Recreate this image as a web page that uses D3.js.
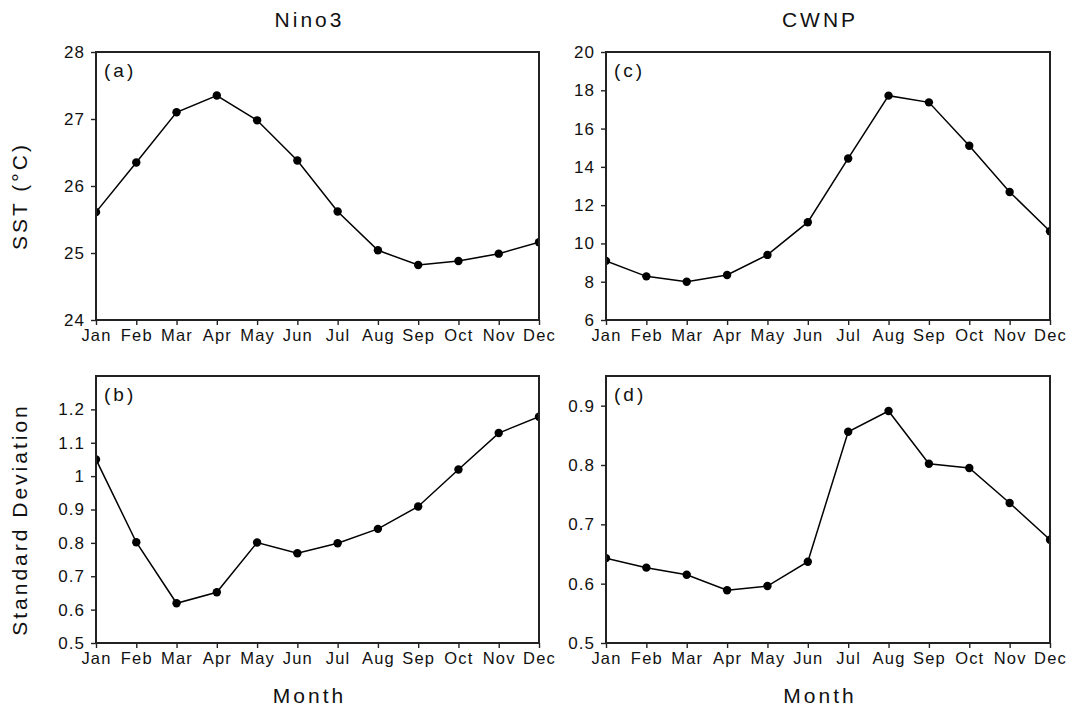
<!DOCTYPE html>
<html>
<head>
<meta charset="utf-8">
<script src="https://cdn.jsdelivr.net/npm/d3@7"></script>
<style>
  html, body { margin: 0; padding: 0; background: #fff; }
  svg { display: block; }
  text { font-family: "Liberation Sans", "DejaVu Sans", sans-serif; fill: #111; }
</style>
</head>
<body>
<svg id="chart" width="1072" height="708"></svg>
<script>
const months = ["Jan","Feb","Mar","Apr","May","Jun","Jul","Aug","Sep","Oct","Nov","Dec"];

const nino3Sst = [25.61, 26.35, 27.10, 27.35, 26.98, 26.38, 25.62, 25.04, 24.82, 24.88, 24.99, 25.16];
const nino3Std = [1.05, 0.802, 0.619, 0.652, 0.801, 0.769, 0.799, 0.842, 0.909, 1.02, 1.129, 1.178];
const cwnpSst  = [9.09, 8.28, 8.00, 8.35, 9.40, 11.11, 14.44, 17.72, 17.37, 15.10, 12.69, 10.64];
const cwnpStd  = [0.643, 0.627, 0.615, 0.589, 0.596, 0.637, 0.856, 0.891, 0.802, 0.795, 0.736, 0.674];

const ticksA = [24, 25, 26, 27, 28];
const ticksB = [0.5, 0.6, 0.7, 0.8, 0.9, 1.0, 1.1, 1.2];
const ticksC = [6, 8, 10, 12, 14, 16, 18, 20];
const ticksD = [0.5, 0.6, 0.7, 0.8, 0.9];

const columnTitles = ["Nino3", "CWNP"];
const rowTitles = ["SST (°C)", "Standard Deviation"];
const xTitle = "Month";

const svg = d3.select("#chart");

const cols = [{x0: 96, x1: 539}, {x0: 606, x1: 1050}];
const rows = [{y0: 52, y1: 320}, {y0: 376, y1: 643}];

const panels = [
  {label: "(a)", col: 0, row: 0, data: nino3Sst, domain: [24, 28], ticks: ticksA},
  {label: "(b)", col: 0, row: 1, data: nino3Std, domain: [0.5, 1.3], ticks: ticksB},
  {label: "(c)", col: 1, row: 0, data: cwnpSst, domain: [6, 20], ticks: ticksC},
  {label: "(d)", col: 1, row: 1, data: cwnpStd, domain: [0.5, 0.95], ticks: ticksD}
];

const fmt = v => String(+v.toFixed(2));

panels.forEach((p, i) => {
  const c = cols[p.col], r = rows[p.row];
  const x = d3.scalePoint().domain(months).range([c.x0, c.x1]).padding(0);
  const y = d3.scaleLinear().domain(p.domain).range([r.y1, r.y0]);
  const g = svg.append("g");

  const clipId = "clip" + i;
  svg.append("clipPath").attr("id", clipId)
    .append("rect").attr("x", c.x0).attr("y", r.y0)
    .attr("width", c.x1 - c.x0).attr("height", r.y1 - r.y0);

  // x axis
  const xa = g.append("g").attr("transform", `translate(0,${r.y1})`)
    .call(d3.axisBottom(x).tickSize(5).tickPadding(4));
  xa.select(".domain").remove();
  xa.selectAll(".tick line").attr("stroke", "#222").attr("stroke-width", 1.4);
  xa.selectAll(".tick text").attr("font-size", 16.5).attr("letter-spacing", "1.2px")
    .attr("font-family", "Liberation Sans, sans-serif").attr("fill", "#111");

  // y axis
  const ya = g.append("g").attr("transform", `translate(${c.x0},0)`)
    .call(d3.axisLeft(y).tickValues(p.ticks).tickFormat(fmt).tickSize(5).tickPadding(6));
  ya.select(".domain").remove();
  ya.selectAll(".tick line").attr("stroke", "#222").attr("stroke-width", 1.4);
  ya.selectAll(".tick text").attr("font-size", 17).attr("letter-spacing", "1px")
    .attr("font-family", "Liberation Sans, sans-serif").attr("fill", "#111");

  // data line + markers
  const pg = g.append("g").attr("clip-path", `url(#${clipId})`);
  const line = d3.line().x((d, j) => x(months[j])).y(d => y(d));
  pg.append("path").datum(p.data).attr("d", line)
    .attr("fill", "none").attr("stroke", "#000").attr("stroke-width", 1.5);
  pg.selectAll("circle").data(p.data).enter().append("circle")
    .attr("cx", (d, j) => x(months[j])).attr("cy", d => y(d))
    .attr("r", 4.2).attr("fill", "#000");

  // frame
  g.append("rect").attr("x", c.x0).attr("y", r.y0)
    .attr("width", c.x1 - c.x0).attr("height", r.y1 - r.y0)
    .attr("fill", "none").attr("stroke", "#222").attr("stroke-width", 2);

  // panel label
  g.append("text").attr("x", c.x0 + 8).attr("y", r.y0 + 25)
    .attr("font-size", 19).attr("letter-spacing", "3px").text(p.label);
});

// column titles
columnTitles.forEach((t, k) => {
  const cx = (cols[k].x0 + cols[k].x1) / 2 - 8;
  svg.append("text").attr("x", cx).attr("y", 27).attr("text-anchor", "middle")
    .attr("font-size", 21).attr("letter-spacing", "3px").text(t);
  svg.append("text").attr("x", cx).attr("y", 703).attr("text-anchor", "middle")
    .attr("font-size", 21).attr("letter-spacing", "3px").text(xTitle);
});

// row titles
rowTitles.forEach((t, k) => {
  const cy = (rows[k].y0 + rows[k].y1) / 2 + 10;
  svg.append("text").attr("transform", `translate(27,${cy}) rotate(-90)`)
    .attr("text-anchor", "middle").attr("font-size", 21).attr("letter-spacing", "3px").text(t);
});
</script>
</body>
</html>
